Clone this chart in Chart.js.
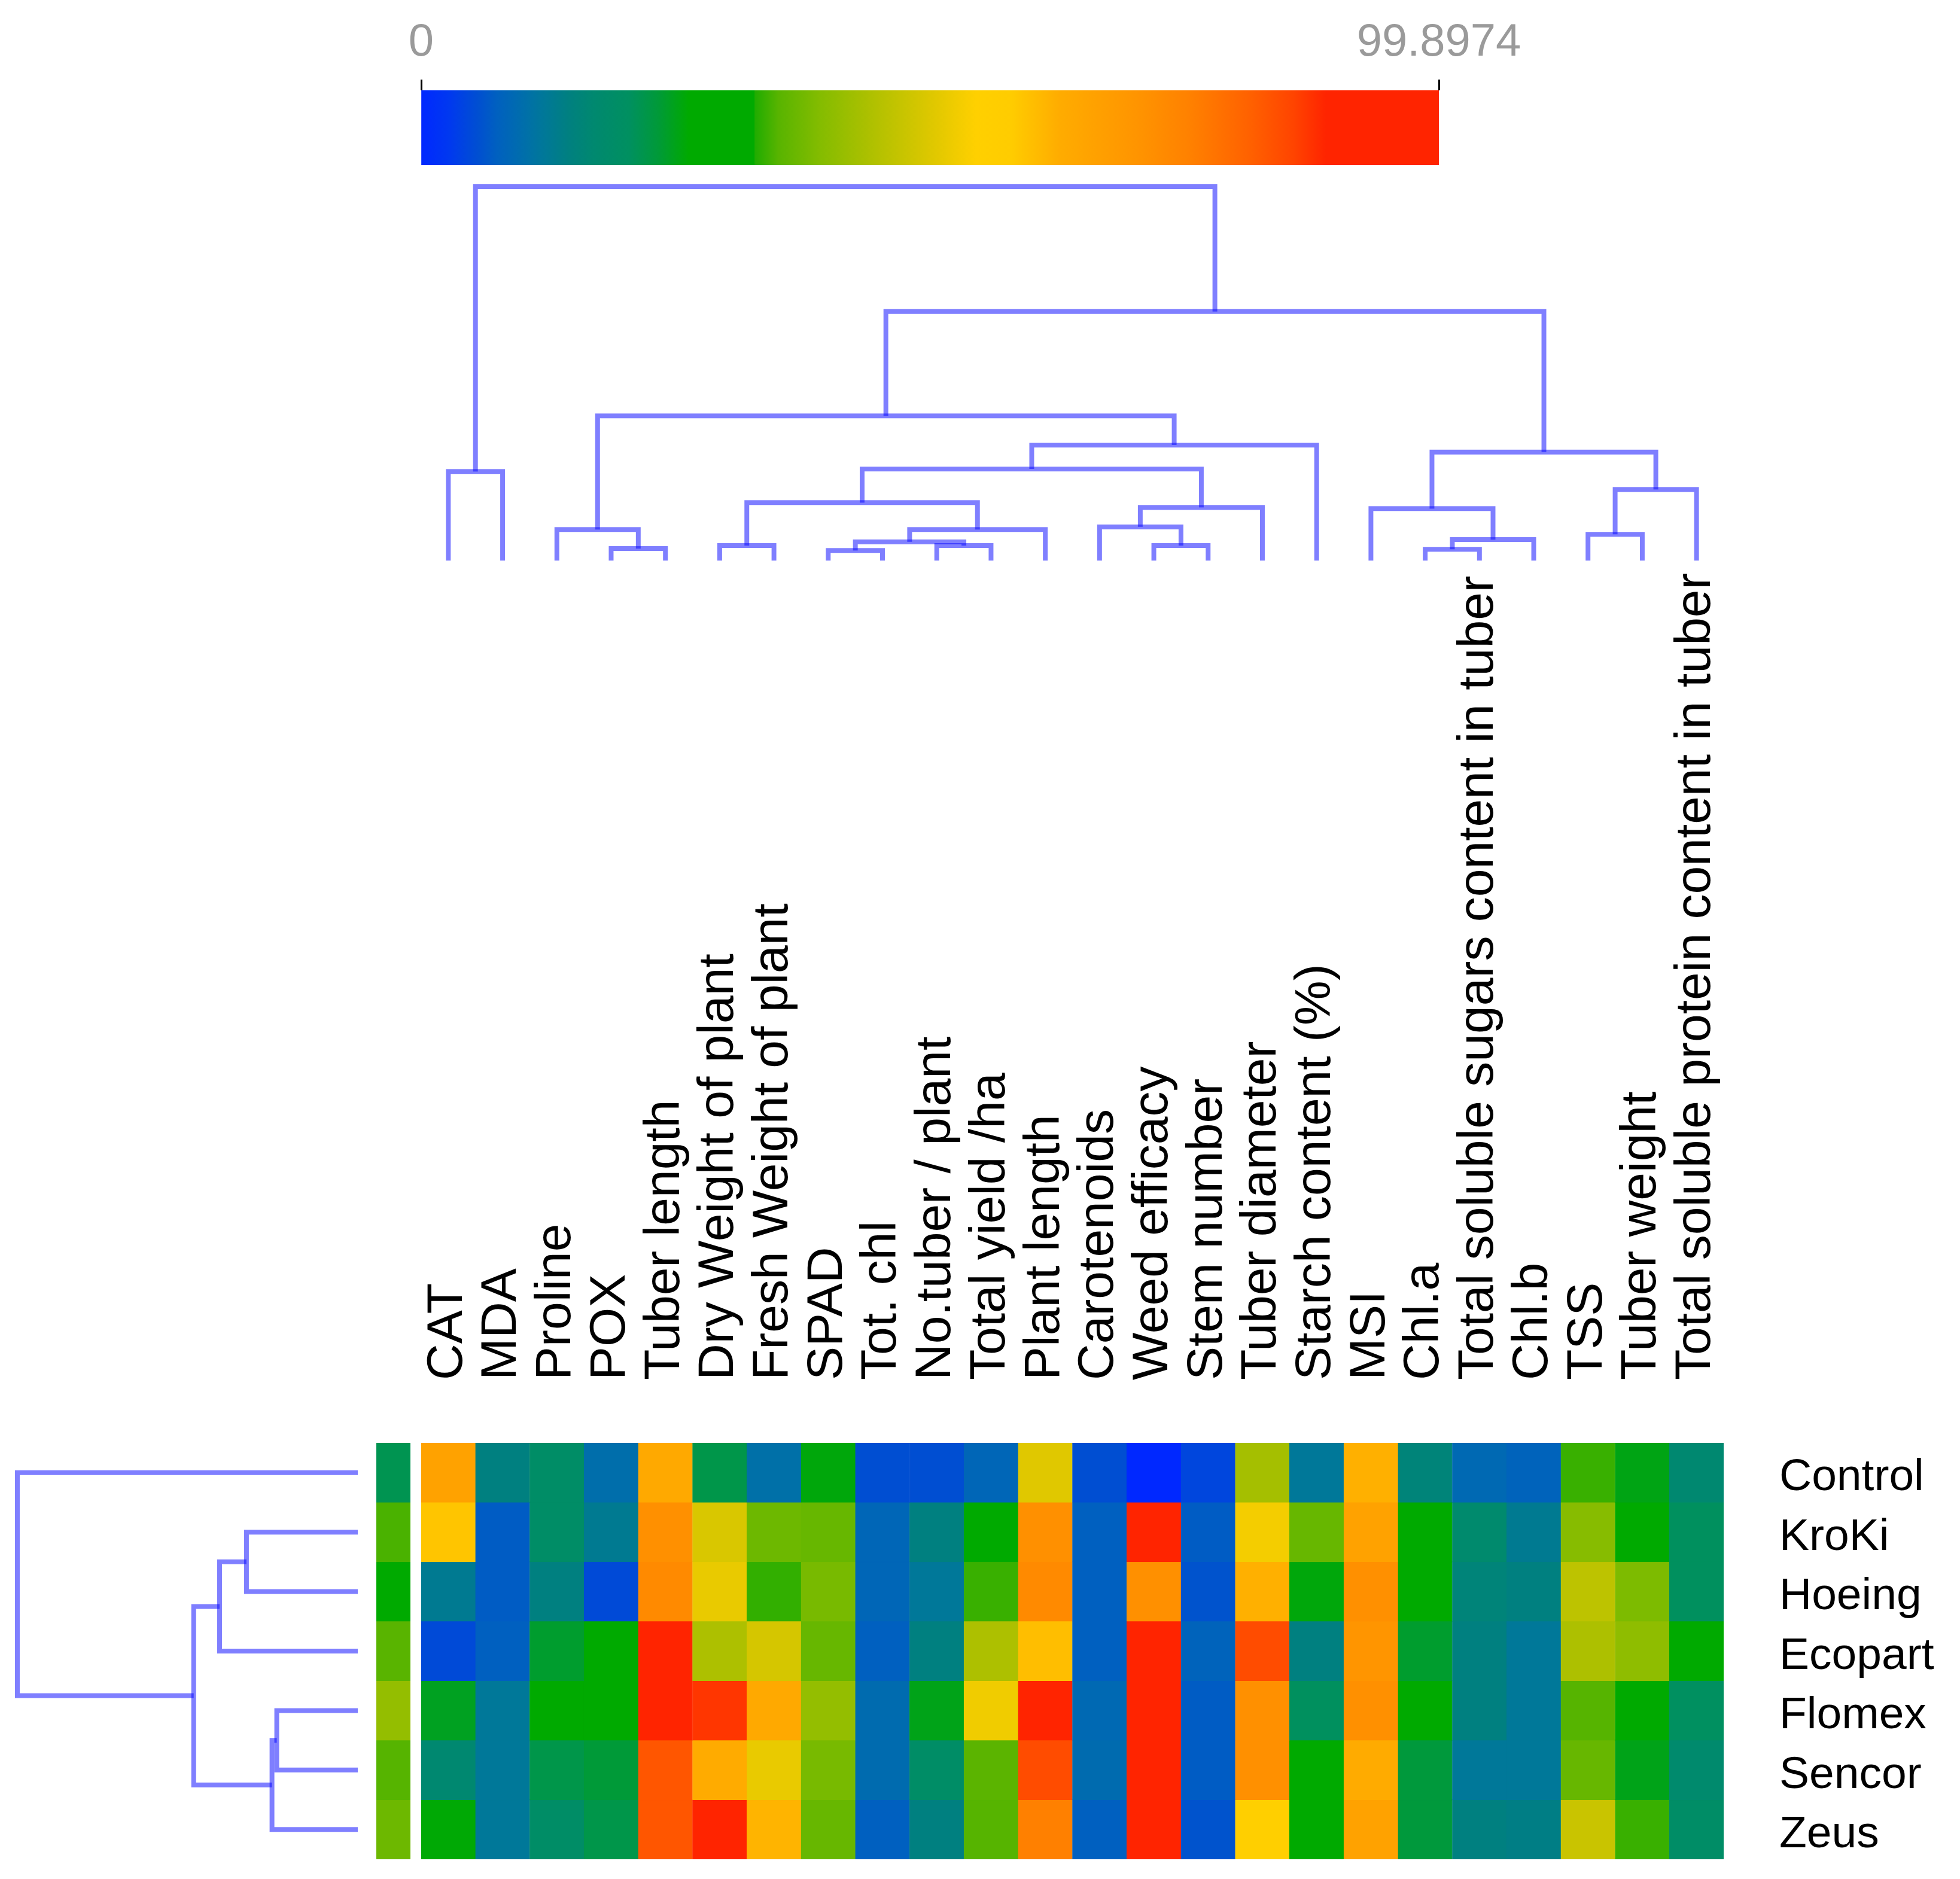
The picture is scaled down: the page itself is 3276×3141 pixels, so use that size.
<!DOCTYPE html>
<html>
<head>
<meta charset="utf-8">
<title>Heatmap with dendrograms</title>
<script src="https://cdn.jsdelivr.net/npm/chart.js@4"></script>
<style>
  body { margin:0; background:#fff; width:3276px; height:3141px; position:relative; overflow:hidden; }
  canvas { position:absolute; }
</style>
</head>
<body>
<canvas id="scaleBar" width="3276" height="300" style="left:0px;top:0px"></canvas>
<canvas id="colTree" width="3276" height="670" style="left:0px;top:290px"></canvas>
<canvas id="heat" width="2586" height="2241" style="left:690px;top:900px"></canvas>
<canvas id="rowTree" width="620" height="741" style="left:0px;top:2400px"></canvas>
<canvas id="sideStrip" width="80" height="741" style="left:620px;top:2400px"></canvas>

<script>
// ---- data ----
const colNames = ['CAT','MDA','Proline','POX','Tuber length','Dry Weight of plant','Fresh Weight of plant',
  'SPAD','Tot. chl','No.tuber / plant','Total yield /ha','Plant length','Carotenoids','Weed efficacy',
  'Stem number','Tuber diameter','Starch content (%)','MSI','Chl.a','Total soluble sugars content in tuber',
  'Chl.b','TSS','Tuber weight','Total soluble protein content in tuber'];
const rowNames = ['Control','KroKi','Hoeing','Ecopart','Flomex','Sencor','Zeus'];
const scaleTicks = [0, 99.8974];

// one array per treatment, same order as colNames
const valControl = [66, 14.5, 19, 10, 63.5, 22, 10.4, 25.7, 5.5, 5.5, 8.5, 50.4, 5.5, 0, 4.5, 43, 12, 62, 15.5, 9, 8, 33.8, 25.2, 16.8];
const valKroKi   = [59, 7, 19, 12.8, 71.5, 49.5, 37, 36.5, 8.5, 14.5, 29, 71.5, 7.4, 95, 7, 53, 36.5, 66, 29, 17.5, 12.8, 39.5, 29, 20.5];
const valHoeing  = [12.8, 7, 14.5, 5, 73, 51.5, 33.5, 38, 8.5, 12, 33.8, 73, 7.4, 71.5, 6, 62, 25.7, 71.5, 29, 15.5, 14.5, 46, 38.5, 20.5];
const valEcopart = [5, 7.4, 23.8, 30, 96, 44, 49, 36.5, 7.4, 14.5, 44, 60, 7.4, 97, 8, 84.5, 14.5, 70, 23.8, 14.5, 12, 44, 40.5, 29];
const valFlomex  = [24.5, 12, 30, 30, 98, 87, 63.5, 41, 9.5, 25, 52.5, 93, 9, 99.8974, 7, 71.5, 20.5, 71.5, 29, 14.5, 12, 35, 29, 20.4];
const valSencor  = [16.8, 12, 22, 23.3, 83, 63, 51.5, 38, 9.5, 19, 35.3, 84.5, 9.5, 96, 7, 71.5, 29, 63, 23, 12, 12, 36.5, 25, 17.5];
const valZeus    = [26, 12, 19, 22, 83, 94, 61.5, 36.5, 7.4, 14.5, 35, 75.7, 7.4, 97, 6, 55, 29, 66, 23, 14.5, 14, 47.5, 33.8, 19];
const sideValues = [21.5, 34.5, 29, 35.2, 41, 35, 37];

// dendrogram merges: [child a, child b, height]; new nodes numbered after the leaves
const colMerges = [
  [7, 8, 2.7], [18, 19, 3.0], [3, 4, 3.2], [5, 6, 4.0], [9, 10, 4.0], [13, 14, 4.0],
  [24, 28, 5.0], [25, 20, 5.6], [21, 22, 7.0], [2, 26, 8.3], [30, 11, 8.3], [12, 29, 9.0],
  [17, 31, 13.9], [35, 15, 14.2], [27, 34, 15.5], [32, 23, 19.0], [0, 1, 23.8], [38, 37, 24.5],
  [36, 39, 29.0], [41, 16, 30.9], [33, 43, 38.7], [44, 42, 66.6], [40, 45, 100]
];
const rowMerges = [
  [4, 5, 23.8], [7, 6, 25.2], [1, 2, 32.7], [9, 3, 40.6], [10, 8, 48.2], [0, 11, 100]
];

// colour scale (fraction of max, colour)
const colorStops = [
  [0, '#0028ff'], [0.027, '#0038f0'], [0.057, '#0050d0'], [0.074, '#0060c0'], [0.104, '#0070a8'],
  [0.121, '#007898'], [0.145, '#008080'], [0.168, '#008870'], [0.204, '#009060'], [0.233, '#009a38'],
  [0.263, '#00aa00'], [0.327, '#00aa00'], [0.328, '#20ac00'], [0.351, '#58b400'], [0.392, '#84bc00'],
  [0.439, '#acc000'], [0.504, '#e0c800'], [0.545, '#ffd000'], [0.58, '#ffcc00'], [0.627, '#ffac00'],
  [0.704, '#ff9400'], [0.757, '#ff8000'], [0.816, '#ff6000'], [0.857, '#ff4400'], [0.889, '#ff2400'],
  [1, '#ff2400']
];

const matrix = [valControl, valKroKi, valHoeing, valEcopart, valFlomex, valSencor, valZeus];
const treeColor = 'rgba(0,0,255,0.5)';
const FONT = 'Liberation Sans, Arial, sans-serif';
Chart.defaults.font.family = FONT;

function hex2rgb(h) { return [1, 3, 5].map(i => parseInt(h.substr(i, 2), 16)); }
function valueColor(v) {
  const t = Math.max(0, Math.min(1, v / scaleTicks[1]));
  for (let i = 1; i < colorStops.length; i++) {
    if (t <= colorStops[i][0]) {
      const t0 = colorStops[i-1][0], t1 = colorStops[i][0];
      const a = hex2rgb(colorStops[i-1][1]), b = hex2rgb(colorStops[i][1]);
      const f = t1 > t0 ? (t - t0) / (t1 - t0) : 0;
      return 'rgb(' + a.map((x, k) => Math.round(x + (b[k] - x) * f)).join(',') + ')';
    }
  }
  return colorStops[colorStops.length - 1][1];
}

// turn merges into ⊓ shaped segments (leaf index, height)
function treeSegments(merges, nLeaves) {
  const pos = [], hgt = [], segs = [];
  for (let i = 0; i < nLeaves; i++) { pos.push(i); hgt.push(0); }
  merges.forEach(([a, b, h]) => {
    segs.push([[pos[a], hgt[a]], [pos[a], h], [pos[b], h], [pos[b], hgt[b]]]);
    pos.push((pos[a] + pos[b]) / 2);
    hgt.push(h);
  });
  return segs;
}

// keep chart area where the layout padding puts it
function noScalePadding(s) { s.paddingLeft = s.paddingRight = s.paddingTop = s.paddingBottom = 0; }

const noPlugins = { legend: { display: false }, tooltip: { enabled: false } };

// ---- colour bar ----
new Chart(document.getElementById('scaleBar'), {
  type: 'bar',
  data: {
    labels: ['scale'],
    datasets: [{
      data: [[scaleTicks[0], scaleTicks[1]]],
      backgroundColor: (ctx) => {
        const a = ctx.chart.chartArea;
        if (!a) return '#fff';
        const g = ctx.chart.ctx.createLinearGradient(a.left, 0, a.right, 0);
        colorStops.forEach(([t, c]) => g.addColorStop(t, c));
        return g;
      },
      barPercentage: 1, categoryPercentage: 1, borderWidth: 0
    }]
  },
  options: {
    indexAxis: 'y', responsive: false, animation: false, devicePixelRatio: 1,
    layout: { padding: { left: 704, right: 871, top: 0, bottom: 24 } },
    plugins: noPlugins,
    scales: {
      x: {
        position: 'top', min: scaleTicks[0], max: scaleTicks[1],
        grid: { drawOnChartArea: false, drawTicks: true, tickLength: 18, tickColor: '#000', tickWidth: 3 },
        border: { display: false },
        afterBuildTicks(s) { s.ticks = scaleTicks.map(v => ({ value: v })); },
        ticks: { padding: 15, color: '#9a9a9a', font: { size: 76 }, maxRotation: 0, autoSkip: false,
                 callback: (v) => String(v) },
        afterFit(s) { s.height = 151; noScalePadding(s); }
      },
      y: { display: false }
    }
  }
});

// ---- column dendrogram ----
new Chart(document.getElementById('colTree'), {
  type: 'scatter',
  data: {
    datasets: treeSegments(colMerges, colNames.length).map(s => ({
      data: s.map(([p, h]) => ({ x: p, y: h })),
      showLine: true, borderColor: treeColor, borderWidth: 8, pointRadius: 0, fill: false, clip: 10
    }))
  },
  options: {
    responsive: false, animation: false, devicePixelRatio: 1,
    layout: { padding: { left: 704, right: 395, top: 22, bottom: 23 } },
    plugins: noPlugins,
    scales: {
      x: { type: 'linear', display: false, min: -0.5, max: colNames.length - 0.5 },
      y: { type: 'linear', display: false, min: 0, max: 100 }
    }
  }
});

// ---- heatmap ----
new Chart(document.getElementById('heat'), {
  type: 'bar',
  data: {
    labels: colNames,
    datasets: matrix.map((row, r) => ({
      data: row.map(() => [r - 0.5, r + 0.5]),
      backgroundColor: row.map(valueColor),
      borderColor: row.map(valueColor),
      borderWidth: 1, borderSkipped: false,
      barPercentage: 1, categoryPercentage: 1, grouped: false
    }))
  },
  options: {
    responsive: false, animation: false, devicePixelRatio: 1,
    layout: { padding: { left: 14, right: 0, top: 0, bottom: 33 } },
    plugins: noPlugins,
    scales: {
      x: {
        position: 'top',
        grid: { display: false, drawTicks: false }, border: { display: false },
        ticks: { autoSkip: false, minRotation: 90, maxRotation: 90, padding: 105, color: '#000',
                 labelOffset: 100, font: { size: 84, lineHeight: 1.2 } },
        afterFit(s) { s.height = 1512; noScalePadding(s); }
      },
      y: {
        position: 'right', min: -0.5, max: rowNames.length - 0.5, reverse: true,
        grid: { display: false, drawTicks: false }, border: { display: false },
        afterBuildTicks(s) { s.ticks = rowNames.map((_, i) => ({ value: i })); },
        ticks: { autoSkip: false, padding: 93, labelOffset: 9, color: '#000', font: { size: 75 },
                 callback: (v) => rowNames[v] },
        afterFit(s) { s.width = 395; noScalePadding(s); }
      }
    }
  }
});

// ---- side strip ----
new Chart(document.getElementById('sideStrip'), {
  type: 'bar',
  data: {
    labels: ['side'],
    datasets: sideValues.map((v, r) => ({
      data: [[r - 0.5, r + 0.5]],
      backgroundColor: valueColor(v), borderColor: valueColor(v), borderWidth: 1, borderSkipped: false,
      barPercentage: 1, categoryPercentage: 1, grouped: false
    }))
  },
  options: {
    responsive: false, animation: false, devicePixelRatio: 1,
    layout: { padding: { left: 9, right: 14, top: 12, bottom: 33 } },
    plugins: noPlugins,
    scales: {
      x: { display: false },
      y: { display: false, min: -0.5, max: rowNames.length - 0.5, reverse: true }
    }
  }
});

// ---- row dendrogram ----
new Chart(document.getElementById('rowTree'), {
  type: 'scatter',
  data: {
    datasets: treeSegments(rowMerges, rowNames.length).map(s => ({
      data: s.map(([p, h]) => ({ x: h, y: p })),
      showLine: true, borderColor: treeColor, borderWidth: 8, pointRadius: 0, fill: false, clip: 10
    }))
  },
  options: {
    responsive: false, animation: false, devicePixelRatio: 1,
    layout: { padding: { left: 29, right: 22, top: 12, bottom: 33 } },
    plugins: noPlugins,
    scales: {
      x: { type: 'linear', display: false, min: 0, max: 100, reverse: true },
      y: { type: 'linear', display: false, min: -0.5, max: rowNames.length - 0.5, reverse: true }
    }
  }
});
</script>
</body>
</html>
